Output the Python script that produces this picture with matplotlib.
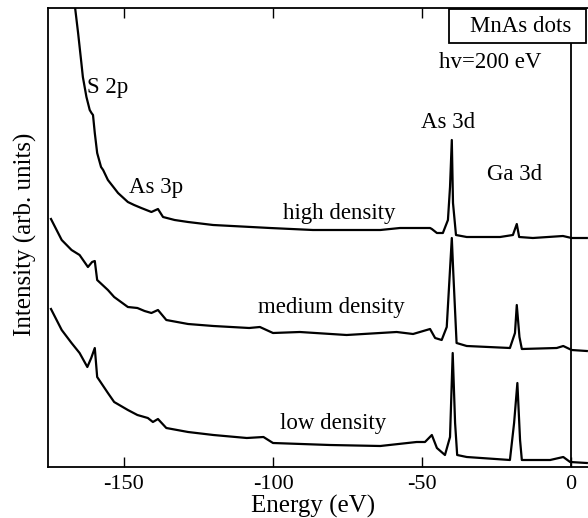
import numpy as np
import matplotlib.pyplot as plt
from matplotlib.patches import Rectangle

# binding energy (eV) and intensity (arb. units, curves stacked)
high_e = [-166.4, -165.4, -164.3, -163.8, -162.6, -161.5, -160.9, -160.4, -159.8, -159.0,
          -157.7, -157.0, -155.4, -153.3, -152.0, -148.7, -146.6, -144.2, -140.8, -138.6,
          -136.9, -133.0, -128.5, -120.1, -101.0, -86.6, -64.0, -57.4, -47.3, -46.7, -45.0,
          -43.0, -41.3, -40.6, -40.0, -39.6, -38.6, -35.0, -23.8, -19.5, -18.2, -17.4,
          -12.8, -2.7, 0.2, 5.3]
high_i = [459, 434, 404, 390, 370, 357, 354, 352, 334, 314,
          300, 297, 287, 279, 274, 265, 262, 259, 255, 258,
          250, 247, 245, 242, 239, 237, 237, 239, 239, 238, 234,
          234, 247, 280, 327, 264, 232, 230, 230, 232, 243, 230,
          229, 231, 229, 229]

medium_e = [-174.5, -170.9, -167.6, -164.9, -162.1, -160.7, -159.8, -159.0, -155.4, -153.3,
            -148.7, -145.5, -143.1, -140.8, -138.6, -135.8, -128.5, -120.0, -108.0, -104.4,
            -100.0, -91.0, -75.3, -58.5, -53.0, -47.3, -45.6, -43.4, -41.7, -40.0, -39.5,
            -38.4, -35.0, -20.5, -18.8, -18.2, -17.3, -16.5, -4.8, -2.6, 0.2, 5.3]
medium_i = [248, 227, 217, 212, 200, 205, 206, 187, 177, 170,
            160, 159, 156, 154, 157, 147, 143, 141, 139, 140,
            134, 135, 132, 135, 133, 138, 129, 127, 140, 229, 194,
            124, 121, 119, 134, 162, 130, 118, 119, 121, 117, 116]

low_e = [-174.5, -170.9, -167.6, -164.9, -162.3, -161.0, -159.8, -159.0, -155.4, -153.3,
         -148.7, -145.5, -142.0, -140.3, -138.6, -135.8, -128.5, -120.0, -108.8, -103.2,
         -100.0, -80.9, -64.0, -51.8, -49.0, -46.7, -45.0, -42.3, -40.6, -39.7, -38.9,
         -38.2, -35.0, -20.5, -19.1, -18.0, -17.1, -16.5, -7.0, -2.6, -0.3, 5.3]
low_i = [158, 137, 124, 114, 100, 109, 119, 90, 74, 65,
         57, 52, 49, 45, 48, 39, 35, 32, 29, 30,
         24, 22, 21, 25, 25, 32, 19, 12, 30, 114, 44,
         12, 10, 7, 44, 84, 27, 7, 7, 10, 5, 4]

xticks = [-150, -100, -50, 0]

plt.rcParams['font.family'] = ['Liberation Serif', 'DejaVu Serif']

fig = plt.figure(figsize=(5.88, 5.18), dpi=100)
ax = fig.add_axes([48 / 588, 51 / 518, 540 / 588, 459 / 518])

for e, i in [(high_e, high_i), (medium_e, medium_i), (low_e, low_i)]:
    ax.plot(e, i, color='black', lw=1.6, solid_joinstyle='round')

ax.set_xlim(-175.5, 5.7)
ax.set_ylim(0, 459)
ax.axvline(0, ymax=424 / 459, color='black', lw=1.3)

ax.set_xticks(xticks)
ax.set_xticklabels([str(t) for t in xticks], fontsize=16)
ax.set_yticks([])
ax.tick_params(axis='x', direction='in', length=7, width=1.0, top=True, pad=6)
ax.spines['right'].set_visible(False)
for s in ['left', 'top', 'bottom']:
    ax.spines[s].set_linewidth(1.3)

ax.set_xlabel('Energy (eV)', fontsize=18, va='center')
ax.xaxis.set_label_coords((313 - 48) / 540, (467 - 506) / 459)
ax.set_ylabel('Intensity (arb. units)', fontsize=18, va='center')
ax.yaxis.set_label_coords((25 - 48) / 540, (467 - 234) / 459)

# peak labels
fs = 16.5
ax.text(-155.4, 379, 'S 2p', fontsize=fs, ha='center', va='center')
ax.text(-139.3, 279, 'As 3p', fontsize=fs, ha='center', va='center')
ax.text(-41.2, 345, 'As 3d', fontsize=fs, ha='center', va='center')
ax.text(-18.8, 292, 'Ga 3d', fontsize=fs, ha='center', va='center')
ax.text(-77.9, 254, 'high density', fontsize=fs, ha='center', va='center')
ax.text(-80.3, 159, 'medium density', fontsize=fs, ha='center', va='center')
ax.text(-79.8, 43, 'low density', fontsize=fs, ha='center', va='center')
ax.text(-27.2, 404, 'hv=200 eV', fontsize=fs, ha='center', va='center')

# sample box in the top right corner
box = Rectangle((-40.9, 424), 45.9, 34.5, facecolor='white', edgecolor='black',
                lw=1.3, zorder=4, clip_on=False)
ax.add_patch(box)
ax.text(-16.9, 441, 'MnAs dots', fontsize=fs, ha='center', va='center', zorder=5)

fig.savefig('out.png', dpi=100)
